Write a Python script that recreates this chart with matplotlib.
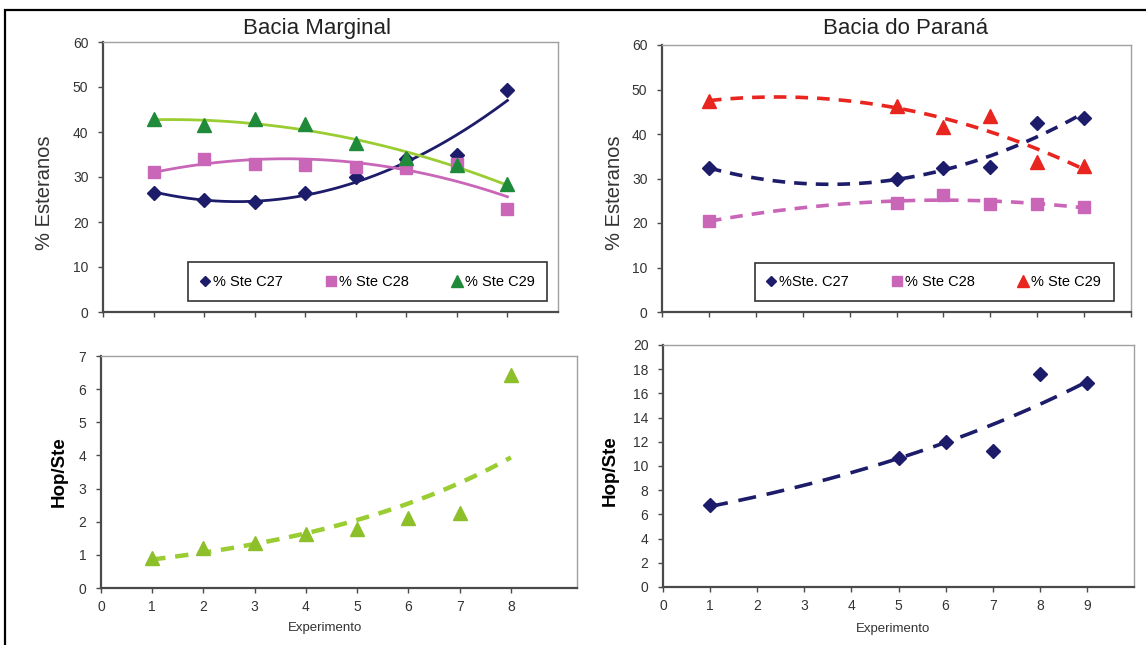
import numpy as np
import matplotlib
matplotlib.use("Agg")
import matplotlib.pyplot as plt
from matplotlib.patches import Rectangle

plt.rcParams['font.family'] = ['Liberation Sans', 'DejaVu Sans']

W, H = 1146, 645

# ---- data: Bacia Marginal ----
exp_marg = [1, 2, 3, 4, 5, 6, 7, 8]
c27_marg = [26.4, 24.9, 24.5, 26.4, 30.1, 34.0, 35.0, 49.4]
c28_marg = [31.2, 33.9, 33.0, 32.7, 32.3, 32.1, 33.0, 23.0]
c29_marg = [42.8, 41.6, 42.8, 41.7, 37.6, 34.3, 32.7, 28.4]
hop_marg = [0.9, 1.22, 1.36, 1.62, 1.78, 2.1, 2.27, 6.42]

# ---- data: Bacia do Parana ----
exp_par = [1, 5, 6, 7, 8, 9]
c27_par = [32.4, 29.9, 32.3, 32.6, 42.5, 43.6]
c28_par = [20.4, 24.4, 26.4, 24.2, 24.2, 23.6]
c29_par = [47.5, 46.3, 41.6, 44.0, 33.8, 32.9]
hop_par = [6.8, 10.7, 12.0, 11.2, 17.6, 16.9]

NAVY = '#1c1c6b'
PINK = '#c966b8'
DGREEN = '#1f8a3a'
LGREEN = '#9acd32'
TRI_LG = '#8cbf2a'
RED = '#e8251f'

MS = {'D': 6.8, 's': 9, '^': 10}


def px_axes(fig, left, top, right, bottom):
    return fig.add_axes([left / W, 1 - bottom / H, (right - left) / W, (bottom - top) / H])


def style(ax):
    for s in ['left', 'bottom']:
        ax.spines[s].set_color('#4a4a4a')
        ax.spines[s].set_linewidth(1.6)
    for s in ['top', 'right']:
        ax.spines[s].set_color('#a0a0a0')
        ax.spines[s].set_linewidth(1.0)
    ax.tick_params(direction='out', length=3.5, width=1.0, color='#4a4a4a',
                   labelsize=10, labelcolor='#333333')
    ax.tick_params(axis='y', pad=7)
    ax.tick_params(axis='x', pad=5)


def poly_trend(x, y, deg=2):
    c = np.polyfit(x, y, deg)
    xs = np.linspace(min(x), max(x), 200)
    return xs, np.polyval(c, xs)


def exp_trend(x, y):
    c = np.polyfit(x, np.log(y), 1)
    xs = np.linspace(min(x), max(x), 200)
    return xs, np.exp(np.polyval(c, xs))


def add_legend(ax, anchor):
    leg = ax.legend(loc='lower right', bbox_to_anchor=anchor, ncol=3, fontsize=10.5,
                    frameon=True, fancybox=False, handlelength=0.6, handletextpad=0.25,
                    columnspacing=3.0, borderpad=0.85, borderaxespad=0, markerscale=0.8)
    leg.get_frame().set_edgecolor('black')
    leg.get_frame().set_linewidth(1.2)


fig = plt.figure(figsize=(W / 100, H / 100), dpi=100)

# outer frame
fig.patches.append(Rectangle((5 / W, -0.1), 1.2, 1 - 10 / H + 0.1, transform=fig.transFigure,
                             fill=False, ec='black', lw=1.6))

# ---------- top left ----------
ax1 = px_axes(fig, 103, 42, 558, 312)
style(ax1)
for y, c, mc, m, lab in [(c27_marg, NAVY, NAVY, 'D', '% Ste C27'),
                         (c28_marg, PINK, PINK, 's', '% Ste C28'),
                         (c29_marg, LGREEN, DGREEN, '^', '% Ste C29')]:
    xs, ys = poly_trend(exp_marg, y)
    ax1.plot(xs, ys, color=c, lw=2.0, zorder=2)
    ax1.plot(exp_marg, y, ls='none', marker=m, ms=MS[m], color=mc, label=lab, zorder=3)
ax1.set_xlim(0, 9)
ax1.set_ylim(0, 60)
ax1.set_xticks(range(0, 9))
ax1.set_xticklabels([])
ax1.set_yticks(range(0, 61, 10))
add_legend(ax1, (0.976, 0.04))
ax1.set_title('Bacia Marginal', fontsize=16, color='#222222', pad=6, x=0.47)

# ---------- top right ----------
ax2 = px_axes(fig, 662, 45, 1131, 312)
style(ax2)
for y, c, m, lab in [(c27_par, NAVY, 'D', '%Ste. C27'),
                     (c28_par, PINK, 's', '% Ste C28'),
                     (c29_par, RED, '^', '% Ste C29')]:
    xs, ys = poly_trend(exp_par, y)
    ax2.plot(xs, ys, color=c, lw=2.6, ls=(0, (3.5, 2.5)), zorder=2)
    ax2.plot(exp_par, y, ls='none', marker=m, ms=MS[m], color=c, label=lab, zorder=3)
ax2.set_xlim(0, 10)
ax2.set_ylim(0, 60)
ax2.set_xticks(range(0, 11))
ax2.set_xticklabels([])
ax2.set_yticks(range(0, 61, 10))
add_legend(ax2, (0.963, 0.04))
ax2.set_title('Bacia do Paraná', fontsize=16, color='#222222', pad=8, x=0.52)

fig.text(45 / W, 1 - 193 / H, '% Esteranos', rotation=90, ha='center', va='center',
         fontsize=14.5, color='#333333')
fig.text(615 / W, 1 - 193 / H, '% Esteranos', rotation=90, ha='center', va='center',
         fontsize=14.5, color='#333333')

# ---------- bottom left ----------
ax3 = px_axes(fig, 101, 356, 577, 588)
style(ax3)
xs, ys = exp_trend(exp_marg, hop_marg)
ax3.plot(xs, ys, color=LGREEN, lw=3.2, ls=(0, (3, 2.2)), zorder=2)
ax3.plot(exp_marg, hop_marg, ls='none', marker='^', ms=MS['^'], color=TRI_LG, zorder=3)
ax3.set_xlim(0, 9.29)
ax3.set_ylim(0, 7)
ax3.set_xticks(range(0, 9))
ax3.set_yticks(range(0, 8))
ax3.set_xlabel('Experimento', fontsize=9.5, color='#333333')
ax3.xaxis.set_label_coords(0.47, -0.147)
ax3.set_ylabel('Hop/Ste', fontsize=13.5, fontweight='bold')
ax3.yaxis.set_label_coords(-0.069, 0.5)

# ---------- bottom right ----------
ax4 = px_axes(fig, 663, 345, 1134, 587)
style(ax4)
xs, ys = exp_trend(exp_par, hop_par)
ax4.plot(xs, ys, color=NAVY, lw=2.6, ls=(0, (5, 3)), zorder=2)
ax4.plot(exp_par, hop_par, ls='none', marker='D', ms=MS['D'], color=NAVY, zorder=3)
ax4.set_xlim(0, 10)
ax4.set_ylim(0, 20)
ax4.set_xticks(range(0, 10))
ax4.set_yticks(range(0, 21, 2))
ax4.set_xlabel('Experimento', fontsize=9.5, color='#333333')
ax4.xaxis.set_label_coords(0.488, -0.149)
ax4.set_ylabel('Hop/Ste', fontsize=13.5, fontweight='bold')
ax4.yaxis.set_label_coords(-0.095, 0.48)

fig.savefig('out.png', dpi=100)
